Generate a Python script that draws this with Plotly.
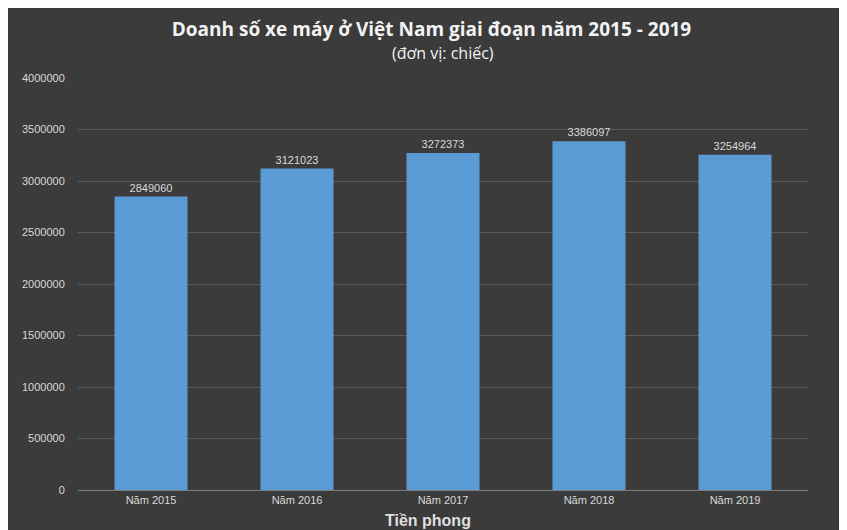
import plotly.graph_objects as go

categories = ["Năm 2015", "Năm 2016", "Năm 2017", "Năm 2018", "Năm 2019"]
values = [2849060, 3121023, 3272373, 3386097, 3254964]
y_ticks = [0, 500000, 1000000, 1500000, 2000000, 2500000, 3000000, 3500000, 4000000]

fig = go.Figure(go.Bar(
    x=categories, y=values,
    marker=dict(color="#5b9bd5", line=dict(width=0)),
    text=[str(v) for v in values], textposition="outside",
    textfont=dict(color="#d9d9d9", size=11, family="Liberation Sans"),
    cliponaxis=False, width=0.5,
))

fig.update_layout(
    width=847, height=530,
    paper_bgcolor="#3b3b3b", plot_bgcolor="rgba(0,0,0,0)",
    margin=dict(l=70, r=47, t=70, b=48),
    showlegend=False,
    font=dict(family="Liberation Sans", color="#d9d9d9"),
    title=dict(
        text="<b>Doanh số xe máy ở Việt Nam giai đoạn năm 2015 - 2019</b>",
        x=0.5, xanchor="center", y=0.96, yanchor="middle",
        font=dict(size=19, color="#f2f2f2", family="Open Sans"),
    ),
    xaxis=dict(showgrid=False, showline=True, linecolor="#7f7f7f", ticks="",
               tickfont=dict(size=11, color="#d9d9d9")),
    yaxis=dict(range=[0, 4000000], tickvals=y_ticks, ticktext=[str(t) for t in y_ticks],
               showgrid=True, gridcolor="#5a5a5a", zeroline=False,
               tickfont=dict(size=11, color="#d9d9d9"), ticklen=10, ticks="outside",
               tickcolor="rgba(0,0,0,0)"),
    annotations=[
        dict(text="(đơn vị: chiếc)", xref="paper", yref="paper", x=0.5, y=1.06,
             xanchor="center", yanchor="middle", showarrow=False,
             font=dict(size=16, color="#f2f2f2", family="Open Sans")),
        dict(text="<b>Tiền phong</b>", xref="paper", yref="paper", x=0.48, y=-0.075,
             xanchor="center", yanchor="middle", showarrow=False,
             font=dict(size=16, color="rgba(255,255,255,0.85)", family="Liberation Sans")),
    ],
)

fig.write_html("out.html")
